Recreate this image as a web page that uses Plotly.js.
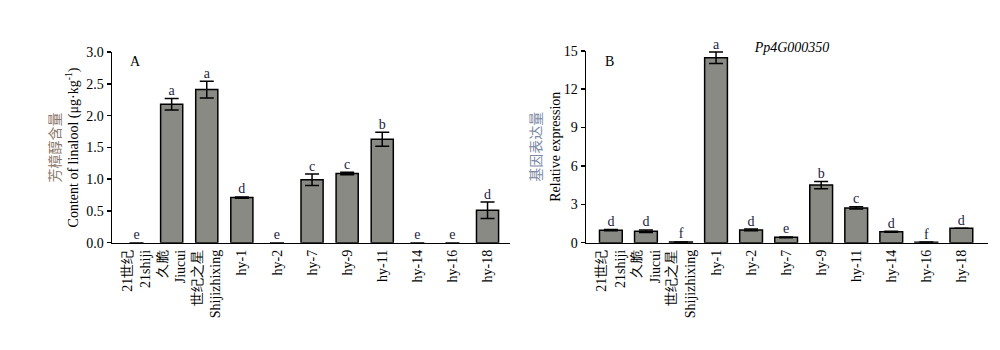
<!DOCTYPE html>
<html>
<head>
<meta charset="utf-8">
<script src="https://cdn.plot.ly/plotly-3.0.1.min.js"></script>
<style>html,body{margin:0;padding:0;background:#fff;}#chart{width:1000px;height:350px;}</style>
</head>
<body>
<div id="chart"></div>
<script>
// Categories (tick labels)
const categoriesA = ["21世纪<br>21shiji", "久脆<br>Jiucui", "世纪之星<br>Shijizhixing", "hy-1", "hy-2", "hy-7", "hy-9", "hy-11", "hy-14", "hy-16", "hy-18"];
const categoriesB = ["21世纪<br>21shiji", "久脆<br>Jiucui", "世纪之星<br>Shijizhixing", "hy-1", "hy-2", "hy-7", "hy-9", "hy-11", "hy-14", "hy-16", "hy-18"];

// Panel A: linalool content (μg·kg-1)
const linaloolValues = [0, 2.18, 2.41, 0.71, 0, 0.99, 1.09, 1.63, 0, 0, 0.51];
const linaloolErrors = [0, 0.09, 0.13, 0.01, 0, 0.09, 0.02, 0.11, 0, 0, 0.13];
const linaloolLetters = ["e", "a", "a", "d", "e", "c", "c", "b", "e", "e", "d"];

// Panel B: relative expression of Pp4G000350
const expressionValues = [0.98, 0.90, 0.05, 14.45, 1.00, 0.42, 4.50, 2.72, 0.86, 0.04, 1.13];
const expressionErrors = [0.05, 0.10, 0.01, 0.45, 0.07, 0.03, 0.28, 0.09, 0.04, 0.01, 0.0];
const expressionLetters = ["d", "d", "f", "a", "d", "e", "b", "c", "d", "f", "d"];

const serif = "Liberation Serif, Times New Roman, serif";
const barColor = "#8a8a85";
const letterColor = "#1c2240";

function idx(arr){ return arr.map((_, i) => i); }
function outline(vals){ return vals.map(v => v > 0 ? 1.5 : 0); }

const traces = [
  {
    type: "bar", x: idx(categoriesA), y: linaloolValues, xaxis: "x", yaxis: "y",
    width: 0.63,
    marker: {color: barColor, line: {color: "#000", width: outline(linaloolValues)}},
    error_y: {type: "data", array: linaloolErrors, visible: true, color: "#000", thickness: 1.5, width: 7},
    hoverinfo: "skip", showlegend: false
  },
  {
    type: "scatter", mode: "text", x: idx(categoriesA),
    y: linaloolValues.map((v, i) => v + linaloolErrors[i]),
    text: linaloolLetters, textposition: "top center",
    textfont: {family: serif, size: 14, color: letterColor},
    xaxis: "x", yaxis: "y", hoverinfo: "skip", showlegend: false, cliponaxis: false
  },
  {
    type: "bar", x: idx(categoriesB), y: expressionValues, xaxis: "x2", yaxis: "y2",
    width: 0.65,
    marker: {color: barColor, line: {color: "#000", width: outline(expressionValues)}},
    error_y: {type: "data", array: expressionErrors, visible: true, color: "#000", thickness: 1.5, width: 7},
    hoverinfo: "skip", showlegend: false
  },
  {
    type: "scatter", mode: "text", x: idx(categoriesB),
    y: expressionValues.map((v, i) => v + expressionErrors[i]),
    text: expressionLetters, textposition: "top center",
    textfont: {family: serif, size: 14, color: letterColor},
    xaxis: "x2", yaxis: "y2", hoverinfo: "skip", showlegend: false, cliponaxis: false
  }
];

const xCommon = {
  showline: true, linecolor: "#000", linewidth: 1.5, ticks: "", showgrid: false, zeroline: false,
  tickangle: -90, tickmode: "array", tickfont: {family: serif, size: 14, color: "#000"}
};
const yCommon = {
  showline: true, linecolor: "#000", linewidth: 1.5, ticks: "outside", ticklen: 4, tickwidth: 1.5,
  tickcolor: "#000", showgrid: false, zeroline: false,
  tickfont: {family: serif, size: 14, color: "#000"}
};

const layout = {
  width: 1000, height: 350,
  margin: {l: 0, r: 0, t: 0, b: 0},
  paper_bgcolor: "#fff", plot_bgcolor: "#fff",
  font: {family: serif, color: "#000"},
  showlegend: false,
  title: {text: "<i>Pp4G000350</i>", x: 0.792, y: 0.866, xanchor: "center", yanchor: "middle",
          font: {family: serif, size: 14, color: "#000"}},
  xaxis: Object.assign({}, xCommon, {domain: [0.112, 0.51], range: [-0.7, 10.64], anchor: "y",
          tickvals: idx(categoriesA), ticktext: categoriesA}),
  yaxis: Object.assign({}, yCommon, {domain: [0.3066, 0.851], range: [0, 3], dtick: 0.5, tickformat: ".1f", anchor: "x",
          title: {text: "<span style='color:#8a7868'>芳樟醇含量</span><br>Content of linalool (μg·kg<sup>-1</sup>)",
                  font: {family: serif + ", Noto Sans CJK SC", size: 14, color: "#000"}, standoff: 4}}),
  xaxis2: Object.assign({}, xCommon, {domain: [0.586, 0.988], range: [-0.71, 10.76], anchor: "y2",
          tickvals: idx(categoriesB), ticktext: categoriesB}),
  yaxis2: Object.assign({}, yCommon, {domain: [0.3066, 0.855], range: [0, 15], dtick: 3, anchor: "x2",
          title: {text: "<span style='color:#7c8aa6'>基因表达量</span><br>Relative expression",
                  font: {family: serif + ", Noto Sans CJK SC", size: 14, color: "#000"}, standoff: 0}}),
  annotations: [
    {text: "A", xref: "paper", yref: "paper", x: 0.135, y: 0.823, xanchor: "center", yanchor: "middle",
     showarrow: false, font: {family: serif, size: 14, color: "#000"}},
    {text: "B", xref: "paper", yref: "paper", x: 0.609, y: 0.823, xanchor: "center", yanchor: "middle",
     showarrow: false, font: {family: serif, size: 14, color: "#000"}}
  ]
};

Plotly.newPlot("chart", traces, layout, {displayModeBar: false, staticPlot: true});
</script>
</body>
</html>
